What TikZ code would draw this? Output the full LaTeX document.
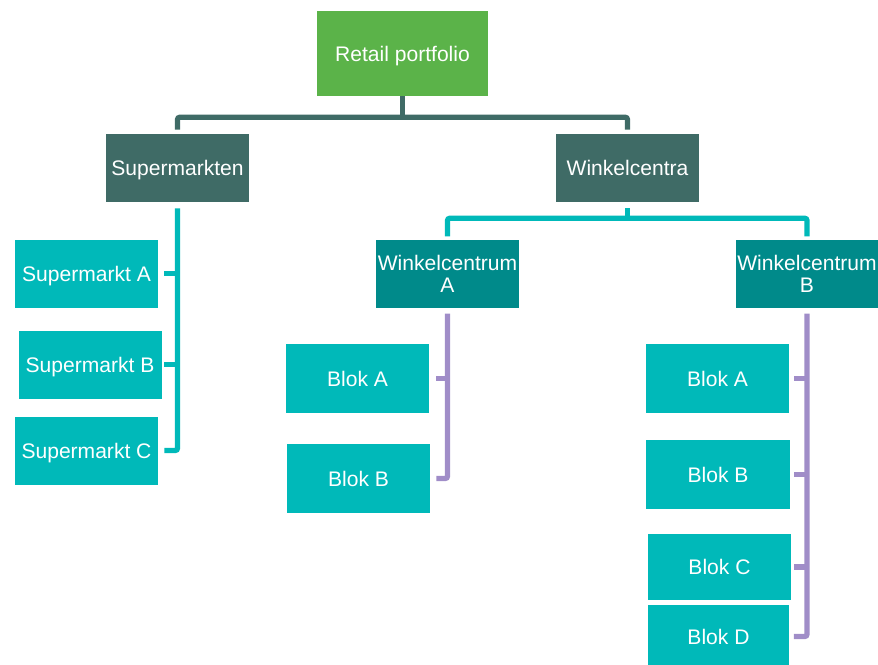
\documentclass[tikz,border=0pt]{standalone}
\usepackage{fontspec}
\setmainfont{Liberation Sans}
\definecolor{cgreen}{HTML}{5BB349}
\definecolor{cdark}{HTML}{3F6B66}
\definecolor{clight}{HTML}{00B9B9}
\definecolor{cmid}{HTML}{008A8A}
\definecolor{cpurple}{HTML}{A08DC8}
\tikzset{
  box/.style={rectangle, inner sep=0pt, text=white, align=center,
    font=\fontsize{15.8pt}{16.5pt}\selectfont},
  oneline/.style={text height=11.4pt, text depth=0pt},
  rootbox/.style={box, oneline, fill=cgreen},
  darkbox/.style={box, oneline, fill=cdark},
  midbox/.style={box, fill=cmid},
  leafbox/.style={box, oneline, fill=clight},
  darkline/.style={draw=cdark, line width=3.8pt, rounded corners=1.5pt},
  tealline/.style={draw=clight, line width=3.8pt, rounded corners=1.5pt},
  purpline/.style={draw=cpurple, line width=3.8pt, rounded corners=1.5pt},
}
\begin{document}
\begin{tikzpicture}[x=0.75pt,y=-0.75pt]
\useasboundingbox (0,0) rectangle (878,664);
% nodes
\node[rootbox, minimum width=171*0.75pt, minimum height=85*0.75pt] (root) at (402.5,53.5) {Retail portfolio};
\node[darkbox, minimum width=143*0.75pt, minimum height=68*0.75pt] (sup) at (177.5,168) {Supermarkten};
\node[darkbox, minimum width=143*0.75pt, minimum height=68*0.75pt] (win) at (627.5,168) {Winkelcentra};
\node[leafbox, minimum width=143*0.75pt, minimum height=68*0.75pt] (sa) at (86.5,273.5) {Supermarkt A};
\node[leafbox, minimum width=143*0.75pt, minimum height=68*0.75pt] (sb) at (90,364.5) {Supermarkt B};
\node[leafbox, minimum width=143*0.75pt, minimum height=68*0.75pt] (sc) at (86.5,450.5) {Supermarkt C};
\node[midbox, minimum width=143*0.75pt, minimum height=68*0.75pt] (wa) at (447.5,274) {Winkelcentrum\\A};
\node[midbox, minimum width=142*0.75pt, minimum height=68*0.75pt] (wb) at (807,274) {Winkelcentrum\\B};
\node[leafbox, minimum width=143*0.75pt, minimum height=69*0.75pt] (aa) at (357.5,378.5) {Blok A};
\node[leafbox, minimum width=143*0.75pt, minimum height=69*0.75pt] (ab) at (358.5,478.5) {Blok B};
\node[leafbox, minimum width=143*0.75pt, minimum height=69*0.75pt] (ba) at (717.5,378.5) {Blok A};
\node[leafbox, minimum width=144*0.75pt, minimum height=69*0.75pt] (bb) at (718,474.5) {Blok B};
\node[leafbox, minimum width=143*0.75pt, minimum height=66*0.75pt] (bc) at (719.5,567) {Blok C};
\node[leafbox, minimum width=141*0.75pt, minimum height=63*0.75pt] (bd) at (718.5,636.5) {Blok D};
% root bracket
\draw[darkline] (root.south) -- ++(0,21) coordinate (rj);
\draw[darkline] ([yshift=3pt]sup.north) |- (rj) -| ([yshift=3pt]win.north);
% supermarkten children
\draw[tealline] ([yshift=-4.5pt]sup.south) |- ([xshift=4.5pt]sc.east);
\draw[tealline] (sup.south |- sa.east) -- ++(-14,0);
\draw[tealline] (sup.south |- sb.east) -- ++(-14,0);
% winkelcentra bracket
\draw[tealline] ([yshift=-4.5pt]win.south) -- ++(0,10) coordinate (wj);
\draw[tealline] ([yshift=2.5pt]wa.north) |- (wj) -| ([yshift=2.5pt]wb.north);
% winkelcentrum A children
\draw[purpline] ([yshift=-4pt]wa.south) |- ([xshift=4.5pt]ab.east);
\draw[purpline] (wa.south |- aa.east) -- ++(-12,0);
% winkelcentrum B children
\draw[purpline] ([yshift=-4pt]wb.south) |- ([xshift=3.5pt]bd.east);
\draw[purpline] (wb.south |- ba.east) -- ++(-13,0);
\draw[purpline] (wb.south |- bb.east) -- ++(-13,0);
\draw[purpline] (wb.south |- bc.east) -- ++(-13,0);
\end{tikzpicture}
\end{document}
